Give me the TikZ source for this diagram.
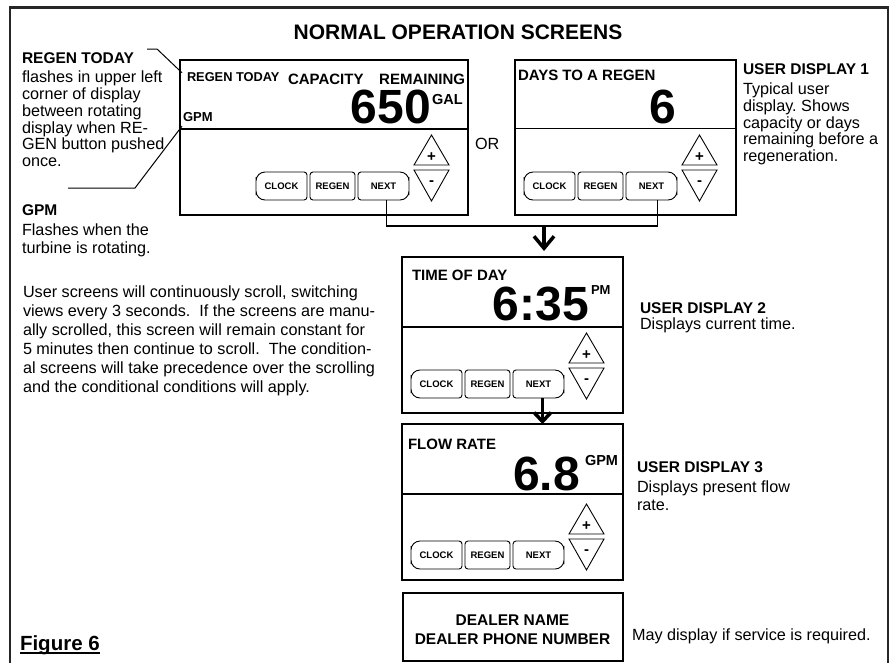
\documentclass[tikz,border=0pt]{standalone}
\usepackage{fontspec}
\setmainfont{Liberation Sans}
\usetikzlibrary{arrows.meta}
\frenchspacing
\newcommand\fs[1]{\fontsize{#1}{#1}\selectfont}
\newcommand\mlines[2]{\vtop{\baselineskip=#1pt\lineskiplimit=-100pt\lineskip=0pt #2}}
\newcommand\lbox[1]{\hbox{#1}}
\newcommand\keypad[3]{%
  \node[btn, minimum width=51pt] (#3clock) at (#1-186.5,#2-29) {CLOCK};
  \draw[btnline, rounded corners=3pt] (#3clock.north) -| (#3clock.east) |- (#3clock.south) [rounded corners=9pt] -| (#3clock.west) |- (#3clock.north);
  \node[btn, minimum width=45pt] (#3regen) at (#1-135.5,#2-29) {REGEN};
  \draw[btnline, rounded corners=3pt] (#3regen.north west) rectangle (#3regen.south east);
  \node[btn, minimum width=51pt] (#3next) at (#1-84.5,#2-29) {NEXT};
  \draw[btnline] (#3next.north) [rounded corners=9pt] -| (#3next.east) |- (#3next.south) [rounded corners=3pt] -| (#3next.west) |- (#3next.north);
  \draw[tri] (#1-54,#2-50) -- (#1-36.5,#2-80) -- (#1-19,#2-50) -- cycle;
  \node[sign] (#3plus) at (#1-36.5,#2-58) {+};
  \draw[tri] (#1-54,#2-45) -- (#1-19,#2-45) -- (#1-36.5,#2-14) -- cycle;
  \node[sign] (#3minus) at (#1-36.5,#2-32) {-};
}
\begin{document}
\begin{tikzpicture}[x=1pt,y=-1pt,
  txt/.style={inner sep=0pt, outer sep=0pt, anchor=base west},
  reg/.style={txt, font=\fs{16.2}},
  hd/.style={txt, font=\bfseries\fs{15.5}},
  lcd/.style={txt, font=\bfseries\fs{15}},
  big/.style={inner sep=0pt, outer sep=0pt, anchor=base east, font=\bfseries\fs{48}},
  disp/.style={draw, line width=1.3pt, inner sep=0pt, outer sep=0pt},
  btn/.style={inner sep=0pt, outer sep=0pt, minimum height=28pt, font=\bfseries\fs{9.5}},
  btnline/.style={line width=0.9pt},
  sign/.style={inner sep=0pt, font=\bfseries\fs{15}},
  tri/.style={draw, line width=0.9pt, line join=miter},
  wire/.style={line width=1.3pt},
  bigarrow/.style={line width=3.5pt, -{Straight Barb[length=12pt,width=20pt]}},
  smallarrow/.style={line width=3.5pt, -{Straight Barb[length=9pt,width=17pt]}},
  lead/.style={line width=1pt}
]
\useasboundingbox (0,0) rectangle (893,662);
\clip (0,0) rectangle (893,662);
% frame
\draw[line width=2.5pt, black!85] (10,7.5) rectangle (888,700);
% title
\node[font=\bfseries\fs{21}, inner sep=0pt, anchor=base] (title) at (458,39) {NORMAL OPERATION SCREENS};

% display 1
\node[disp, minimum width=288pt, minimum height=155pt] (d1) at (324,137.5) {};
\draw[line width=1.3pt] (d1.west |- 0,129) -- (d1.east |- 0,129);
\node[txt, font=\bfseries\fs{12.8}] (d1rt) at (187,81.7) {REGEN TODAY};
\node[lcd] (d1cap) at (288,84) {CAPACITY};
\node[lcd, anchor=base east] (d1rem) at (465,84) {REMAINING};
\node[big] (d1num) at (431,123.5) {650};
\node[txt, font=\bfseries\fs{14.5}] (d1gal) at (432,104) {GAL};
\node[txt, font=\bfseries\fs{13}] (d1gpm) at (183,121) {GPM};
\keypad{468}{215}{d1}

% display 2
\node[disp, minimum width=221pt, minimum height=155pt] (d2) at (625.5,137.5) {};
\draw[line width=1.3pt] (d2.west |- 0,128.5) -- (d2.east |- 0,128.5);
\node[lcd] (d2lab) at (518,80.5) {DAYS TO A REGEN};
\node[big] (d2num) at (676,123) {6};
\keypad{736}{215}{d2}

\node[txt, font=\fs{16.2}] (or) at (475,149) {OR};

% display 3
\node[disp, minimum width=221pt, minimum height=156pt] (d3) at (512.5,335) {};
\draw[line width=1.3pt] (d3.west |- 0,327) -- (d3.east |- 0,327);
\node[lcd] (d3lab) at (412,280.5) {TIME OF DAY};
\node[big] (d3num) at (589,320) {6:35};
\node[txt, font=\bfseries\fs{13}] (d3pm) at (591,294.5) {PM};
\keypad{623}{413}{d3}

% display 4
\node[disp, minimum width=221pt, minimum height=156pt] (d4) at (512.5,502) {};
\draw[line width=1.3pt] (d4.west |- 0,494) -- (d4.east |- 0,494);
\node[lcd] (d4lab) at (408,449) {FLOW RATE};
\node[big] (d4num) at (580,490) {6.8};
\node[txt, font=\bfseries\fs{14.5}] (d4gpm) at (585,465.5) {GPM};
\keypad{623}{584}{d4}

% dealer box
\node[disp, minimum width=220pt, minimum height=68pt] (d5) at (513,627) {};
\node[hd, anchor=base] (d5a) at (512.5,625) {DEALER NAME};
\node[hd, anchor=base] (d5b) at (512.5,644) {DEALER PHONE NUMBER};
\node[reg] (d5note) at (632,640) {May display if service is required.};

% connectors
\coordinate (jn) at (544,226);
\draw[wire] ([xshift=3pt]d1next.south) |- (jn) -| ([xshift=6pt]d2next.south);
\path (jn |- d3.north) ++(0,-6) coordinate (jt);
\draw[bigarrow] (jn) -- (jt);
\path ([xshift=4pt]d3next.south) coordinate (a2s);
\draw[smallarrow] (a2s) -- (a2s |- d4.north);

% left notes
\node[hd] (lrt) at (22,63.5) {REGEN TODAY};
\node[reg] (lrtp) at (22,82.7) {\mlines{16.8}{\lbox{flashes in upper left}\lbox{corner of display}\lbox{between rotating}\lbox{display when RE-}\lbox{GEN button pushed}\lbox{once.}}};
\coordinate (rtA) at (147,49);
\draw[lead] (rtA) -- ++(10,0) -- ([xshift=-5pt]d1rt.north west);
\coordinate (gpA) at (68,188);
\draw[lead] (gpA) -- ++(67,0) -- ([xshift=-1pt,yshift=-5pt]d1gpm.south west);
\node[hd] (lgpm) at (22,215) {GPM};
\node[reg] (lgpmp) at (22,235.5) {\mlines{17.5}{\lbox{Flashes when the}\lbox{turbine is rotating.}}};
\node[reg] (luser) at (23,297.5) {\mlines{19}{\lbox{User screens will continuously scroll, switching}\lbox{views every 3 seconds.\ \ If the screens are manu-}\lbox{ally scrolled, this screen will remain constant for}\lbox{5 minutes then continue to scroll.\ \ The condition-}\lbox{al screens will take precedence over the scrolling}\lbox{and the conditional conditions will apply.}}};
\node[txt, font=\bfseries\fs{20.5}] (fig) at (20,650) {Figure 6};
\draw[line width=1.4pt] ([yshift=1.5pt]fig.south west) -- ([yshift=1.5pt]fig.south east);

% right notes
\node[hd] (u1) at (743,74.5) {USER DISPLAY 1};
\node[reg] (u1p) at (743,94.5) {\mlines{16.8}{\lbox{Typical user}\lbox{display. Shows}\lbox{capacity or days}\lbox{remaining before a}\lbox{regeneration.}}};
\node[hd] (u2) at (640,313) {USER DISPLAY 2};
\node[reg] (u2p) at (640,329) {Displays current time.};
\node[hd] (u3) at (637,472.5) {USER DISPLAY 3};
\node[reg] (u3p) at (637,492.2) {\mlines{18}{\lbox{Displays present flow}\lbox{rate.}}};
\end{tikzpicture}
\end{document}
